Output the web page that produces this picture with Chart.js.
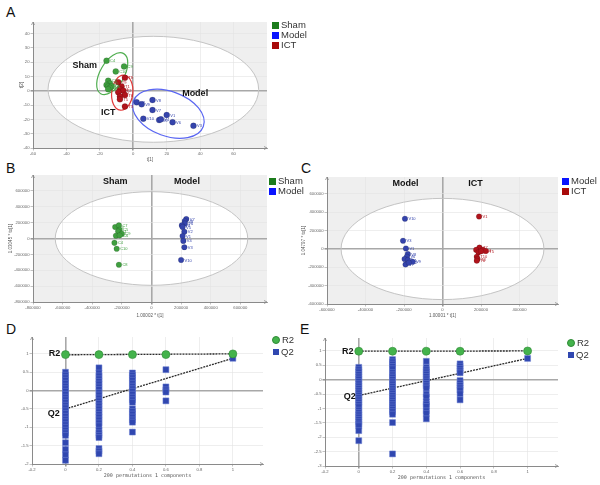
<!DOCTYPE html>
<html>
<head>
<meta charset="utf-8">
<script src="https://cdn.jsdelivr.net/npm/chart.js@4.4.1/dist/chart.umd.min.js"></script>
<style>
  body { margin: 0; width: 600px; height: 485px; background: #fff; position: relative; overflow: hidden;
         font-family: "Liberation Sans", Arial, sans-serif; }
  canvas { position: absolute; }
  .tag { position: absolute; font-size: 14px; line-height: 14px; color: #111; }
  .leg { position: absolute; display: flex; align-items: center; font-size: 9.5px; line-height: 10px; color: #333; height: 10px; }
  .leg i { display: inline-block; margin-right: 2px; }
</style>
</head>
<body>
<div class="tag" style="left:6px;top:5px">A</div>
<div class="tag" style="left:6px;top:161px">B</div>
<div class="tag" style="left:301px;top:161px">C</div>
<div class="tag" style="left:6px;top:322px">D</div>
<div class="tag" style="left:300px;top:322px">E</div>

<canvas id="chartA"></canvas>
<canvas id="chartB"></canvas>
<canvas id="chartC"></canvas>
<canvas id="chartD"></canvas>
<canvas id="chartE"></canvas>
<div id="legends"></div>

<script>
// ─── Data ──────────────────────────────────────────────────────────────────

// A: PCA scores t[1] / t[2]
const shamA = [[-16, 21], [-5.5, 17], [-10.5, 13.5], [-15, 7], [-14, 5], [-16, 4], [-15, 3], [-13, 3], [-14, 2], [-15, 1]];
const shamANames = ["C4", "C9", "C10", "C3", "C5", "C2", "C1", "C6", "C7", "C8"];
const modelA = [[2, -8], [5, -9.5], [11.5, -6.5], [11.5, -13.5], [6, -19.5], [15.5, -20.5], [16.5, -20], [20, -17], [23.5, -22], [36, -24.5]];
const modelANames = ["V2", "V9", "V8", "V7", "V10", "V5", "V4", "V1", "V6", "V3"];
const ictA = [[-5, 9], [-9, 6], [-7, 3], [-8, 1], [-6, 0], [-9, -1], [-5, -3], [-8, -4], [-8, -6], [-5, -11]];
const ictANames = ["T8", "T9", "T1", "T4", "T2", "T10", "T6", "T7", "T5", "T3"];
const ticksAx = [-60, -40, -20, 0, 20, 40, 60];
const ticksAy = [-40, -30, -20, -10, 0, 10, 20, 30, 40];

// B: OPLS-DA Sham vs Model
const shamB = [[-245000, 145000], [-220000, 165000], [-215000, 110000], [-225000, 90000], [-200000, 60000],
               [-240000, 35000], [-215000, 40000], [-250000, -55000], [-235000, -130000], [-220000, -330000]];
const shamBNames = ["C3", "C7", "C5", "C1", "C9", "C2", "C6", "C4", "C10", "C8"];
const modelB = [[235000, 245000], [225000, 220000], [225000, 190000], [205000, 165000], [210000, 145000],
                [222000, 85000], [210000, 30000], [215000, -30000], [222000, -110000], [200000, -270000]];
const modelBNames = ["V7", "V8", "V6", "V9", "V5", "V2", "V1", "V4", "V3", "V10"];
const ticksBx = [-800000, -600000, -400000, -200000, 0, 200000, 400000, 600000];
const ticksBy = [-800000, -600000, -400000, -200000, 0, 200000, 400000, 600000];

// C: OPLS-DA Model vs ICT
const modelC = [[-195000, 330000], [-205000, 90000], [-190000, 5000], [-180000, -55000], [-185000, -85000],
                [-197000, -110000], [-180000, -120000], [-155000, -140000], [-192000, -170000], [-175000, -150000]];
const modelCNames = ["V10", "V3", "V1", "V8", "V6", "V5", "V4", "V9", "V7", "V2"];
const ictC = [[190000, 355000], [192000, 15000], [210000, -10000], [175000, -10000], [225000, -22000],
              [187000, -35000], [200000, -25000], [178000, -85000], [182000, -110000], [178000, -128000]];
const ictCNames = ["V1", "T7", "T4", "T2", "T5", "T8", "T9", "T10", "T3", "T6"];
const ticksCx = [-600000, -400000, -200000, 0, 200000, 400000];
const ticksCy = [-600000, -400000, -200000, 0, 200000, 400000, 600000];

// D / E: permutation tests (200 permutations, 1 component)
const r2D = [[0, 0.98], [0.2, 0.98], [0.4, 0.98], [0.6, 0.98], [1, 1.0]];
const q2D_x0 = [0.5, 0.42, 0.35, 0.28, 0.2, 0.12, 0.05, -0.02, -0.1, -0.18, -0.25, -0.32, -0.4, -0.47, -0.55,
                -0.62, -0.7, -0.78, -0.85, -0.93, -1.0, -1.08, -1.15, -1.22, -1.42, -1.6, -1.75, -1.9];
const q2D_x02 = [0.62, 0.48, 0.4, 0.32, 0.25, 0.18, 0.1, 0.03, -0.05, -0.12, -0.2, -0.28, -0.35, -0.42, -0.5,
                 -0.58, -0.65, -0.72, -0.8, -0.88, -0.96, -1.08, -1.15, -1.22, -1.28, -1.58, -1.65, -1.72];
const q2D_x04 = [0.48, 0.42, 0.35, 0.28, 0.2, 0.12, 0.05, -0.02, -0.1, -0.18, -0.25, -0.32, -0.5, -0.57, -0.64,
                 -0.72, -0.8, -0.86, -1.13];
const q2D_x06 = [0.57, 0.1, 0.02, -0.04, -0.28];
const q2D_x1 = [0.88];
const q2LineD = [[0, -0.5], [1, 0.88]];
const r2LineD = [[0, 0.975], [1, 1.0]];
const ticksDx = [-0.2, 0, 0.2, 0.4, 0.6, 0.8, 1];
const ticksDy = [-2, -1.5, -1, -0.5, 0, 0.5, 1];

const r2E = [[0, 0.99], [0.2, 0.99], [0.4, 0.99], [0.6, 0.99], [1, 1.0]];
const q2E_x0 = [0.43, 0.35, 0.27, 0.18, 0.1, 0.02, -0.06, -0.14, -0.22, -0.3, -0.38, -0.46, -0.54, -0.62,
                -0.7, -0.78, -0.86, -0.94, -1.06, -1.14, -1.22, -1.3, -1.38, -1.46, -1.54, -1.6, -1.77, -2.12];
const q2E_x02 = [0.7, 0.62, 0.54, 0.46, 0.38, 0.25, 0.17, 0.09, 0.01, -0.07, -0.15, -0.23, -0.31, -0.39, -0.47,
                 -0.55, -0.63, -0.71, -0.79, -0.87, -0.95, -1.03, -1.11, -1.2, -1.49, -2.58];
const q2E_x04 = [0.64, 0.43, 0.35, 0.27, 0.19, 0.11, 0.03, -0.05, -0.13, -0.21, -0.29, -0.5, -0.6, -0.77,
                 -0.85, -0.93, -1.08, -1.17, -1.36];
const q2E_x06 = [0.55, 0.47, 0.39, 0.31, 0.24, -0.03, -0.12, -0.2, -0.28, -0.36, -0.49, -0.7];
const q2E_x1 = [0.74];
const q2LineE = [[0, -0.55], [1, 0.74]];
const r2LineE = [[0, 0.99], [1, 1.0]];
const ticksEx = [-0.2, 0, 0.2, 0.4, 0.6, 0.8, 1];
const ticksEy = [-3, -2.5, -2, -1.5, -1, -0.5, 0, 0.5, 1];

// ─── Colours ───────────────────────────────────────────────────────────────

const GREEN = "#3f9f3f", BLUE = "#3544ac", RED = "#b0141c";
const LEG_GREEN = "#1c7c1c", LEG_BLUE = "#0a14ff", LEG_RED = "#a80a0a";

// ─── Helpers ───────────────────────────────────────────────────────────────

const toPts = (pairs) => pairs.map(([x, y]) => ({ x, y }));
const column = (x, vals) => vals.map((y) => ({ x, y }));

function px(chart, x, y) {
  return [chart.scales.x.getPixelForValue(x), chart.scales.y.getPixelForValue(y)];
}

function ellipsePath(chart, e) {
  const ctx = chart.ctx;
  const [cx, cy] = px(chart, e.cx, e.cy);
  ctx.beginPath();
  if (e.ex !== undefined) {
    const [ex, ey] = px(chart, e.ex, e.ey);
    const a = Math.hypot(ex - cx, ey - cy);
    ctx.ellipse(cx, cy, a, a * e.ratio, Math.atan2(ey - cy, ex - cx), 0, Math.PI * 2);
  } else {
    const rx = Math.abs(chart.scales.x.getPixelForValue(e.cx + e.rx) - cx);
    const ry = Math.abs(chart.scales.y.getPixelForValue(e.cy + e.ry) - cy);
    ctx.ellipse(cx, cy, rx, ry, 0, 0, Math.PI * 2);
  }
}

// grey plot area, white Hotelling ellipse, group ellipses, labels, axis arrows
const decor = {
  id: "decor",
  beforeDraw(chart, args, opts) {
    const { ctx, chartArea: a } = chart;
    if (!opts.fill) return;
    ctx.save();
    ctx.fillStyle = opts.fill;
    ctx.fillRect(a.left, a.top, a.width, a.height);
    if (opts.hotelling) {
      ellipsePath(chart, opts.hotelling);
      ctx.fillStyle = "#fff";
      ctx.fill();
    }
    ctx.restore();
  },
  beforeDatasetsDraw(chart, args, opts) {
    const ctx = chart.ctx;
    ctx.save();
    if (opts.hotelling) {
      ellipsePath(chart, opts.hotelling);
      ctx.strokeStyle = "#c4c4c4";
      ctx.lineWidth = 1;
      ctx.stroke();
    }
    (opts.groups || []).forEach((g) => {
      ellipsePath(chart, g);
      ctx.strokeStyle = g.color;
      ctx.lineWidth = 1.2;
      ctx.stroke();
    });
    ctx.restore();
  },
  afterDatasetsDraw(chart, args, opts) {
    const { ctx, chartArea: a } = chart;
    ctx.save();
    chart.data.datasets.forEach((ds, i) => {
      if (!ds.names) return;
      const meta = chart.getDatasetMeta(i);
      ctx.font = '4px "Liberation Sans"';
      ctx.fillStyle = ds.backgroundColor;
      ctx.textAlign = "left";
      ctx.textBaseline = "middle";
      meta.data.forEach((el, j) => ctx.fillText(ds.names[j], el.x + 3.5, el.y + 0.5));
    });
    (opts.texts || []).forEach((t) => {
      const [x, y] = px(chart, t.x, t.y);
      ctx.font = 'bold 9px "Liberation Sans"';
      ctx.fillStyle = "#111";
      ctx.textAlign = "center";
      ctx.textBaseline = "middle";
      ctx.fillText(t.text, x, y);
    });
    // arrows at the ends of the axes
    ctx.strokeStyle = "#8a8a8a";
    ctx.lineWidth = 0.8;
    ctx.beginPath();
    ctx.moveTo(a.left - 1.5, a.top + 3); ctx.lineTo(a.left, a.top); ctx.lineTo(a.left + 1.5, a.top + 3);
    ctx.moveTo(a.right - 3, a.bottom - 1.5); ctx.lineTo(a.right, a.bottom); ctx.lineTo(a.right - 3, a.bottom + 1.5);
    ctx.stroke();
    ctx.restore();
  },
};

function axis(dir, min, max, ticks, title, size, titlePad, titleFont) {
  return {
    type: "linear",
    min,
    max,
    afterFit: (s) => {
      if (dir === "x") s.height = size;
      else s.width = size;
    },
    afterBuildTicks: (s) => {
      s.ticks = ticks.map((v) => ({ value: v }));
    },
    ticks: {
      autoSkip: false,
      maxRotation: 0,
      padding: 1,
      color: "#666",
      font: { size: 4.2, family: "Liberation Sans" },
      callback: (v) => String(v),
    },
    grid: {
      color: (c) => (c.tick && c.tick.value === 0 ? "#a8a8a8" : "#e3e3e3"),
      lineWidth: (c) => (c.tick && c.tick.value === 0 ? 1.6 : 0.6),
      tickLength: 2.5,
      tickColor: "#999",
    },
    border: { color: "#8a8a8a", width: 1 },
    title: {
      display: !!title,
      text: title,
      color: "#555",
      padding: dir === "x" ? { bottom: titlePad, top: 0 } : { top: titlePad, bottom: 0 },
      font: titleFont || { size: 4.5, family: "Liberation Sans" },
    },
  };
}

function makeChart(id, box, area, datasets, xAxis, yAxis, decorOpts) {
  const cv = document.getElementById(id);
  cv.width = box.w;
  cv.height = box.h;
  cv.style.left = box.x + "px";
  cv.style.top = box.y + "px";
  return new Chart(cv, {
    type: "scatter",
    data: { datasets },
    options: {
      responsive: false,
      animation: false,
      events: [],
      layout: { padding: { top: area.t - box.y, right: box.x + box.w - area.r, left: 0, bottom: 0 } },
      plugins: { legend: { display: false }, tooltip: { enabled: false }, decor: decorOpts },
      scales: {
        x: axis("x", xAxis.min, xAxis.max, xAxis.ticks, xAxis.title, box.y + box.h - area.b, xAxis.pad, xAxis.font),
        y: axis("y", yAxis.min, yAxis.max, yAxis.ticks, yAxis.title, area.l - box.x, yAxis.pad),
      },
    },
    plugins: [decor],
  });
}

function scoreSet(pairs, names, color, r) {
  return {
    data: toPts(pairs),
    names,
    backgroundColor: color,
    borderColor: "rgba(0,0,0,0.25)",
    borderWidth: 0.5,
    pointRadius: r,
  };
}

function permSets(r2, cols, q2Line, r2Line) {
  const q2pts = cols.flatMap(([x, vals]) => column(x, vals));
  return [
    { data: toPts(r2), backgroundColor: "#44b34c", borderColor: "#2f8a36", borderWidth: 0.6, pointRadius: 4, order: 1 },
    { data: q2pts, pointStyle: "rect", backgroundColor: "#3047b0", borderColor: "#6a7fd0", borderWidth: 0.5, pointRadius: 4.2, order: 2 },
    { type: "line", data: toPts(r2Line), borderColor: "#2a2a2a", borderWidth: 1.3, borderDash: [2, 1], pointRadius: 0, order: 3 },
    { type: "line", data: toPts(q2Line), borderColor: "#2a2a2a", borderWidth: 1.3, borderDash: [2, 1], pointRadius: 0, order: 3 },
  ];
}

// ─── Panels ────────────────────────────────────────────────────────────────

makeChart(
  "chartA",
  { x: 0, y: 0, w: 300, h: 163 },
  { l: 33, t: 22, r: 267, b: 148 },
  [scoreSet(ictA, ictANames, RED, 3), scoreSet(shamA, shamANames, GREEN, 3), scoreSet(modelA, modelANames, BLUE, 3)],
  { min: -60, max: 80, ticks: ticksAx, title: "t[1]", pad: 1 },
  { min: -40, max: 48, ticks: ticksAy, title: "t[2]", pad: 19 },
  {
    fill: "#efefef",
    hotelling: { cx: 12, cy: 1, rx: 63, ry: 37 },
    groups: [
      { cx: -12.6, cy: 11.9, ex: -5.7, ey: 25.9, ratio: 0.52, color: "#4fae4f" },
      { cx: -6.6, cy: -1.4, ex: -5.4, ey: 10.8, ratio: 0.6, color: "#e23a3a" },
      { cx: 21, cy: -16.1, ex: 41.9, ey: -25, ratio: 0.6, color: "#5a66f2" },
    ],
    texts: [
      { text: "Sham", x: -29, y: 17.5 },
      { text: "ICT", x: -15, y: -15.4 },
      { text: "Model", x: 37, y: -2 },
    ],
  }
);

makeChart(
  "chartB",
  { x: 0, y: 160, w: 300, h: 160 },
  { l: 33, t: 175, r: 267, b: 302 },
  [scoreSet(shamB, shamBNames, GREEN, 2.8), scoreSet(modelB, modelBNames, BLUE, 2.8)],
  { min: -800000, max: 780000, ticks: ticksBx, title: "1.00002 * t[1]", pad: 2 },
  { min: -800000, max: 800000, ticks: ticksBy, title: "1.03045 * to[1]", pad: 8 },
  {
    fill: "#efefef",
    hotelling: { cx: 0, cy: 0, rx: 650000, ry: 590000 },
    texts: [
      { text: "Sham", x: -245000, y: 712000 },
      { text: "Model", x: 239000, y: 712000 },
    ],
  }
);

makeChart(
  "chartC",
  { x: 300, y: 160, w: 300, h: 160 },
  { l: 327, t: 177, r: 558, b: 304 },
  [scoreSet(modelC, modelCNames, BLUE, 2.8), scoreSet(ictC, ictCNames, RED, 2.8)],
  { min: -600000, max: 600000, ticks: ticksCx, title: "1.00001 * t[1]", pad: 2 },
  { min: -600000, max: 785000, ticks: ticksCy, title: "1.04797 * to[1]", pad: 1 },
  {
    fill: "#efefef",
    hotelling: { cx: 0, cy: 0, rx: 527000, ry: 552000 },
    texts: [
      { text: "Model", x: -192000, y: 710000 },
      { text: "ICT", x: 171000, y: 710000 },
    ],
  }
);

const permFont = { size: 5, family: "DejaVu Sans Mono" };

makeChart(
  "chartD",
  { x: 0, y: 320, w: 300, h: 165 },
  { l: 32, t: 337, r: 263, b: 464 },
  permSets(r2D, [[0, q2D_x0], [0.2, q2D_x02], [0.4, q2D_x04], [0.6, q2D_x06], [1, q2D_x1]], q2LineD, r2LineD),
  { min: -0.2, max: 1.18, ticks: ticksDx, title: "200 permutations 1 components", pad: 6, font: permFont },
  { min: -2, max: 1.46, ticks: ticksDy, title: "", pad: 0 },
  {
    texts: [
      { text: "R2", x: -0.066, y: 1.0 },
      { text: "Q2", x: -0.07, y: -0.63 },
    ],
  }
);

makeChart(
  "chartE",
  { x: 300, y: 320, w: 300, h: 165 },
  { l: 325, t: 338, r: 558, b: 466 },
  permSets(r2E, [[0, q2E_x0], [0.2, q2E_x02], [0.4, q2E_x04], [0.6, q2E_x06], [1, q2E_x1]], q2LineE, r2LineE),
  { min: -0.2, max: 1.18, ticks: ticksEx, title: "200 permutations 1 components", pad: 4, font: permFont },
  { min: -3, max: 1.45, ticks: ticksEy, title: "", pad: 0 },
  {
    texts: [
      { text: "R2", x: -0.065, y: 0.98 },
      { text: "Q2", x: -0.053, y: -0.59 },
    ],
  }
);

// ─── Legends ───────────────────────────────────────────────────────────────

const legendItems = [
  { x: 272, y: 20, label: "Sham", color: LEG_GREEN, shape: "sq" },
  { x: 272, y: 30, label: "Model", color: LEG_BLUE, shape: "sq" },
  { x: 272, y: 40, label: "ICT", color: LEG_RED, shape: "sq" },
  { x: 269, y: 176, label: "Sham", color: LEG_GREEN, shape: "sq" },
  { x: 269, y: 186, label: "Model", color: LEG_BLUE, shape: "sq" },
  { x: 562, y: 176, label: "Model", color: LEG_BLUE, shape: "sq" },
  { x: 562, y: 186, label: "ICT", color: LEG_RED, shape: "sq" },
  { x: 272, y: 335, label: "R2", color: "#44b34c", shape: "dot" },
  { x: 273, y: 347, label: "Q2", color: "#3047b0", shape: "small" },
  { x: 567, y: 338, label: "R2", color: "#44b34c", shape: "dot" },
  { x: 568, y: 350, label: "Q2", color: "#3047b0", shape: "small" },
];

document.getElementById("legends").innerHTML = legendItems
  .map(({ x, y, label, color, shape }) => {
    const sw =
      shape === "dot"
        ? `width:8px;height:8px;border-radius:50%;background:${color};border:0.5px solid #2f8a36;box-sizing:border-box`
        : shape === "small"
        ? `width:6px;height:6px;background:${color}`
        : `width:7px;height:7px;background:${color}`;
    return `<div class="leg" style="left:${x}px;top:${y}px"><i style="${sw}"></i>${label}</div>`;
  })
  .join("");
</script>
</body>
</html>
